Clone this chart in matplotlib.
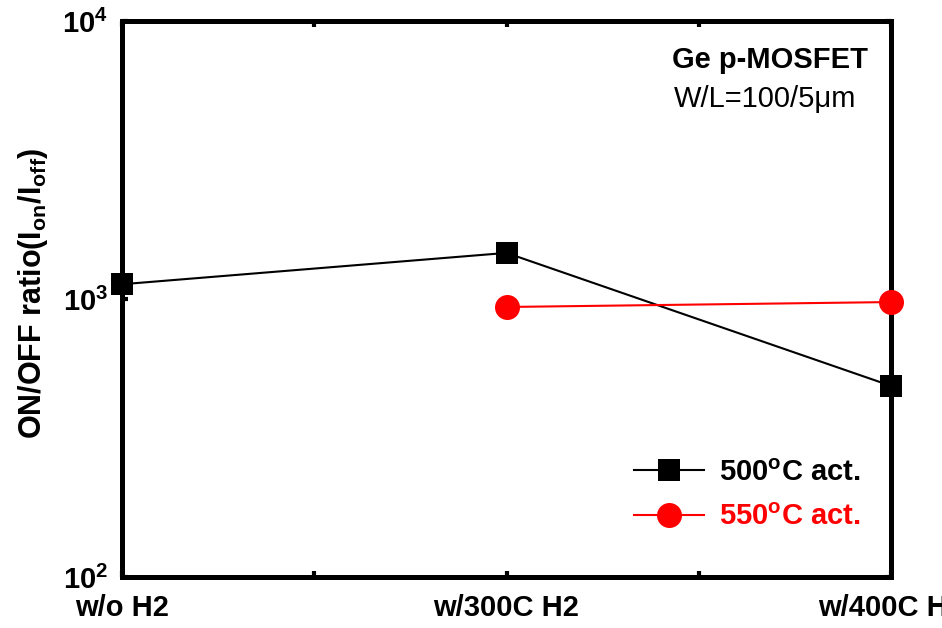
import numpy as np
import matplotlib
matplotlib.use('Agg')
import matplotlib.pyplot as plt

plt.rcParams['font.family'] = ['Liberation Sans', 'DejaVu Sans']
plt.rcParams['mathtext.default'] = 'regular'

# data
conditions = ['w/o H2', 'w/300C H2', 'w/400C H2']
x500 = [0, 1, 2]
ratio500 = [1130, 1465, 487]
x550 = [1, 2]
ratio550 = [936, 975]

fig = plt.figure(figsize=(9.42, 6.28), dpi=100)
ax = fig.add_axes([122/942, 1-577/628, (891-122)/942, (577-21)/628])

ax.plot(x500, ratio500, color='black', lw=1.5, marker='s', ms=16,
        markeredgewidth=0, clip_on=False, zorder=3,
        label='500$^{o}$C act.')
ax.plot(x550, ratio550, color='red', lw=1.5, marker='o', ms=18,
        markeredgewidth=0, clip_on=False, zorder=3,
        label='550$^{o}$C act.')

ax.set_yscale('log')
ax.set_ylim(1e2, 1e4)
ax.set_xlim(0, 2)

ax.set_xticks([0, 1, 2])
ax.set_xticklabels(conditions)
ax.set_xticks([0.5, 1.5], minor=True)
ax.yaxis.set_minor_locator(matplotlib.ticker.NullLocator())

for s in ax.spines.values():
    s.set_linewidth(3.6)

ax.tick_params(axis='both', which='both', direction='in', top=True, right=True,
               width=3, length=4, labelsize=21)
ax.tick_params(axis='x', which='major', pad=12)
ax.tick_params(axis='y', which='major', pad=10)
for lab in ax.get_xticklabels() + ax.get_yticklabels():
    lab.set_fontweight('bold')
for lab in ax.get_xticklabels():
    lab.set_clip_on(False)

ax.set_ylabel('ON/OFF ratio(I$_{on}$/I$_{off}$)', fontsize=22,
              fontweight='bold')
ax.yaxis.set_label_coords(-0.094, 0.51)

ax.text(0.97, 0.955, 'Ge p-MOSFET', transform=ax.transAxes, ha='right',
        va='top', fontsize=21, fontweight='bold')
ax.text(0.955, 0.885, 'W/L=100/5\u03bcm', transform=ax.transAxes, ha='right',
        va='top', fontsize=21)

leg = ax.legend(loc='lower right', bbox_to_anchor=(0.994, 0.036), frameon=False,
                handlelength=2.4, handletextpad=0.5, labelspacing=0.55,
                prop={'size': 21, 'weight': 'bold'})
for t, c in zip(leg.get_texts(), ['black', 'red']):
    t.set_color(c)

fig.savefig('out.png', dpi=100)
